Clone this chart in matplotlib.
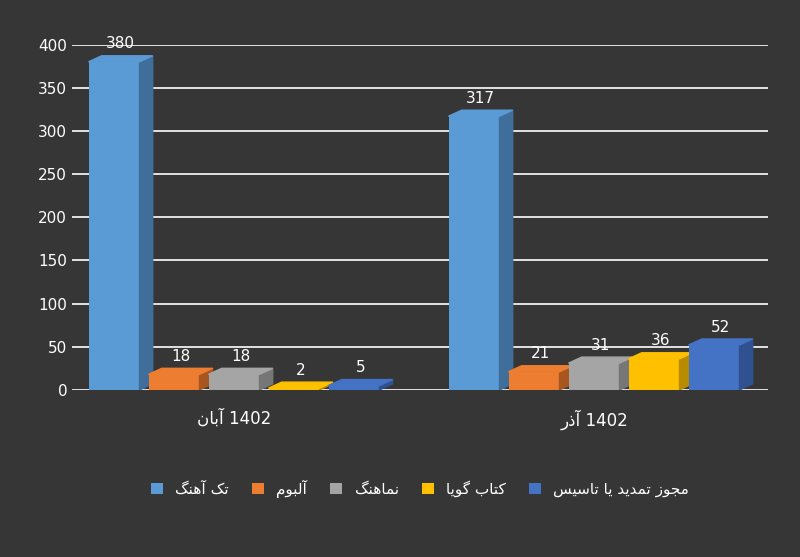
import numpy as np
import matplotlib.pyplot as plt
from matplotlib.patches import Polygon

# minimal Persian shaping (isolated, final, initial, medial)
FORMS = {
    'ا': (0xFE8D, 0xFE8E), 'آ': (0xFE81, 0xFE82), 'د': (0xFEA9, 0xFEAA),
    'ذ': (0xFEAB, 0xFEAC), 'ر': (0xFEAD, 0xFEAE), 'ز': (0xFEAF, 0xFEB0),
    'و': (0xFEED, 0xFEEE),
    'ب': (0xFE8F, 0xFE90, 0xFE91, 0xFE92), 'ت': (0xFE95, 0xFE96, 0xFE97, 0xFE98),
    'ج': (0xFE9D, 0xFE9E, 0xFE9F, 0xFEA0), 'س': (0xFEB1, 0xFEB2, 0xFEB3, 0xFEB4),
    'ل': (0xFEDD, 0xFEDE, 0xFEDF, 0xFEE0), 'م': (0xFEE1, 0xFEE2, 0xFEE3, 0xFEE4),
    'ن': (0xFEE5, 0xFEE6, 0xFEE7, 0xFEE8), 'ه': (0xFEE9, 0xFEEA, 0xFEEB, 0xFEEC),
    'ک': (0xFB8E, 0xFB8F, 0xFB90, 0xFB91), 'گ': (0xFB92, 0xFB93, 0xFB94, 0xFB95),
    'ی': (0xFBFC, 0xFBFD, 0xFBFE, 0xFBFF),
}


def fa(word):
    out = []
    for i, ch in enumerate(word):
        if ch not in FORMS:
            out.append(ch)
            continue
        prev = word[i - 1] if i > 0 else ''
        nxt = word[i + 1] if i + 1 < len(word) else ''
        jp = prev in FORMS and len(FORMS[prev]) == 4
        jn = len(FORMS[ch]) == 4 and nxt in FORMS
        f = FORMS[ch]
        if jp and jn:
            c = f[3]
        elif jn:
            c = f[2]
        elif jp:
            c = f[1]
        else:
            c = f[0]
        out.append(chr(c))
    return ''.join(out[::-1])


categories = ['تک آهنگ', 'آلبوم', 'نماهنگ', 'کتاب گویا', 'مجوز تمدید یا تاسیس']
months = ['آبان', 'آذر']
aban = [380, 18, 18, 2, 5]
azar = [317, 21, 31, 36, 52]
colors = ['#5B9BD5', '#ED7D31', '#A5A5A5', '#FFC000', '#4472C4']
sides = ['#3F6E9A', '#A8561F', '#767676', '#B88A00', '#2F5190']

fig = plt.figure(figsize=(8, 5.57), dpi=100)
fig.patch.set_facecolor('#363636')
ax = fig.add_axes([0.09, 0.3, 0.87, 0.62])
ax.set_facecolor('#363636')

w = 0.85
dx, dy = 0.22, 7
for g, vals in enumerate([aban, azar]):
    for i, v in enumerate(vals):
        x = g * 6 + i
        ax.bar(x, v, width=w, color=colors[i], zorder=3,
               label=fa(categories[i]) if g == 0 else None)
        l, r = x - w / 2, x + w / 2
        ax.add_patch(Polygon([(r, 0), (r + dx, dy), (r + dx, v + dy), (r, v)],
                             closed=True, color=sides[i], zorder=3))
        ax.add_patch(Polygon([(l, v), (l + dx, v + dy), (r + dx, v + dy), (r, v)],
                             closed=True, color=colors[i], zorder=3))
        ax.text(x + dx / 2, v + dy + 5, str(v), color='white', ha='center',
                va='bottom', fontsize=11, zorder=4)

ax.set_ylim(0, 400)
ax.set_xlim(-0.7, 10.9)
ax.set_yticks(np.arange(0, 401, 50))
ax.tick_params(axis='y', colors='white', labelsize=11, length=0)
ax.set_xticks([2, 8])
ax.set_xticklabels([fa(m) + ' 1402' for m in months], color='white', fontsize=12)
ax.tick_params(axis='x', length=0, pad=14)
ax.yaxis.grid(True, color='white', linewidth=1.2, zorder=0)
for s in ax.spines.values():
    s.set_visible(False)

ax.legend(loc='upper center', bbox_to_anchor=(0.5, -0.22), ncol=5, frameon=False,
          labelcolor='white', fontsize=11, handlelength=0.8, handleheight=0.8,
          columnspacing=1.5)
fig.savefig('out.png', facecolor=fig.get_facecolor())
